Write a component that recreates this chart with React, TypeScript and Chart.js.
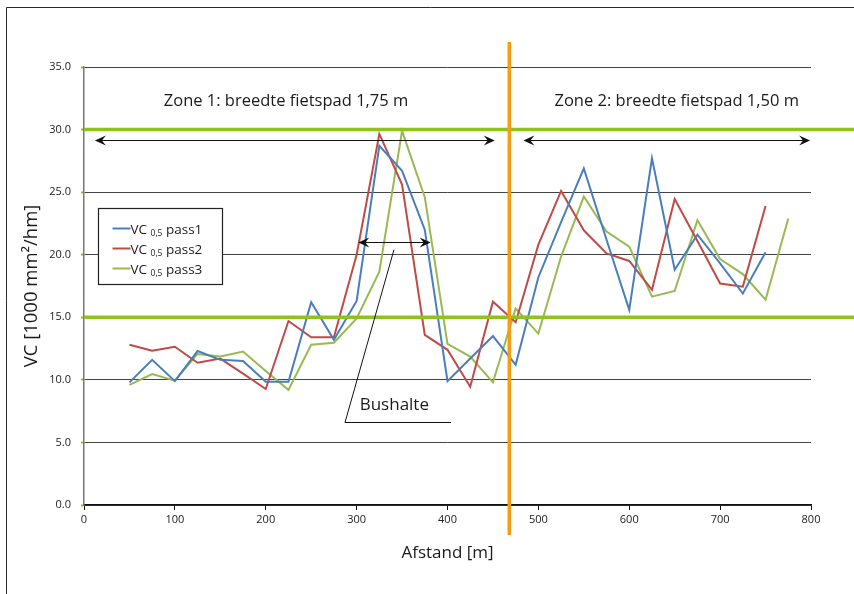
import React, { useEffect, useRef } from "react";
import { Chart, registerables } from "chart.js";

Chart.register(...registerables);

// ---- data ----
const distances = [50, 75, 100, 125, 150, 175, 200, 225, 250, 275, 300, 325, 350, 375, 400, 425, 450, 475, 500, 525, 550, 575, 600, 625, 650, 675, 700, 725, 750, 775];
const pass1 = [9.8, 11.6, 9.9, 12.3, 11.6, 11.5, 9.85, 9.85, 16.2, 13.2, 16.3, 28.7, 26.7, 22.0, 9.9, 11.7, 13.5, 11.2, 18.2, 22.6, 26.9, 21.2, 15.6, 27.7, 18.8, 21.6, 19.3, 16.9, 20.2, null];
const pass2 = [12.8, 12.33, 12.65, 11.37, 11.7, 10.5, 9.27, 14.7, 13.4, 13.4, 20.0, 29.65, 25.6, 13.6, 12.4, 9.45, 16.25, 14.6, 20.8, 25.1, 21.95, 20.1, 19.5, 17.2, 24.45, 21.1, 17.7, 17.45, 23.9, null];
const pass3 = [9.6, 10.47, 9.94, 12.07, 11.86, 12.26, 10.7, 9.2, 12.8, 12.97, 14.9, 18.65, 29.9, 24.6, 12.87, 11.86, 9.8, 15.7, 13.7, 19.85, 24.65, 21.85, 20.65, 16.65, 17.1, 22.75, 19.65, 18.45, 16.4, 22.9];
const seriesNames = ["pass1", "pass2", "pass3"];
const seriesPrefix = "VC";
const seriesSub = "0,5";
const thresholds = [15, 30];
const zoneBoundary = 468;
const zoneLabels = ["Zone 1: breedte fietspad 1,75 m", "Zone 2: breedte fietspad 1,50 m"];
const busStopLabel = "Bushalte";
const xTitle = "Afstand [m]";
const yTitle = "VC [1000 mm²/hm]";

// ---- styling / annotation geometry (data units) ----
const COLORS = ["#4a7ebb", "#be4b48", "#98b954"];
const GREEN = "#8fc21c";
const ORANGE = "#f59c12";
const FONT = "'Open Sans', 'Noto Sans', sans-serif";
const ANN = {
  zone1Arrow: { x1: 12, x2: 452, y: 29.17 },
  zone2Arrow: { x1: 483.5, x2: 799, y: 29.17 },
  busArrow: { x1: 301.8, x2: 381.5, y: 21.0 },
  leader: [[341.1, 20.4], [287.2, 6.61], [403.9, 6.61]],
  busText: { x: 341.5, y: 7.95 },
  zoneText: [{ x: 222.3, y: 32.25 }, { x: 652.2, y: 32.25 }],
  orange: { y1: 37.0, y2: -2.4 },
};

function arrowHead(ctx: CanvasRenderingContext2D, x: number, y: number, dir: number) {
  ctx.beginPath();
  ctx.moveTo(x, y);
  ctx.lineTo(x - dir * 11, y - 5);
  ctx.lineTo(x - dir * 7, y);
  ctx.lineTo(x - dir * 11, y + 5);
  ctx.closePath();
  ctx.fill();
}

function doubleArrow(ctx: CanvasRenderingContext2D, x1: number, x2: number, y: number) {
  ctx.beginPath();
  ctx.moveTo(x1 + 4, y);
  ctx.lineTo(x2 - 4, y);
  ctx.stroke();
  arrowHead(ctx, x1, y, -1);
  arrowHead(ctx, x2, y, 1);
}

const annotationPlugin = {
  id: "annotations",
  beforeDraw(chart: any) {
    const ctx = chart.ctx as CanvasRenderingContext2D;
    ctx.save();
    ctx.strokeStyle = "#2a2a2a";
    ctx.lineWidth = 1;
    ctx.beginPath();
    ctx.moveTo(6.5, chart.height);
    ctx.lineTo(6.5, 7.5);
    ctx.lineTo(chart.width, 7.5);
    ctx.stroke();
    ctx.restore();
  },
  afterDatasetsDraw(chart: any) {
    const ctx = chart.ctx as CanvasRenderingContext2D;
    const x = chart.scales.x;
    const y = chart.scales.y;
    const area = chart.chartArea;
    ctx.save();
    ctx.strokeStyle = GREEN;
    ctx.lineWidth = 3.5;
    thresholds.forEach((t) => {
      const py = y.getPixelForValue(t);
      ctx.beginPath();
      ctx.moveTo(area.left, py);
      ctx.lineTo(chart.width, py);
      ctx.stroke();
    });
    ctx.strokeStyle = ORANGE;
    ctx.lineWidth = 3.5;
    const ox = x.getPixelForValue(zoneBoundary);
    ctx.beginPath();
    ctx.moveTo(ox, y.getPixelForValue(ANN.orange.y1));
    ctx.lineTo(ox, y.getPixelForValue(ANN.orange.y2));
    ctx.stroke();
    ctx.strokeStyle = "#111";
    ctx.fillStyle = "#111";
    ctx.lineWidth = 1;
    [ANN.zone1Arrow, ANN.zone2Arrow, ANN.busArrow].forEach((a) => {
      doubleArrow(ctx, x.getPixelForValue(a.x1), x.getPixelForValue(a.x2), Math.round(y.getPixelForValue(a.y)) + 0.5);
    });
    ctx.beginPath();
    ANN.leader.forEach((p, i) => {
      const px = x.getPixelForValue(p[0]);
      const py = y.getPixelForValue(p[1]);
      if (i === 0) ctx.moveTo(px, py);
      else ctx.lineTo(px, Math.round(py) + 0.5);
    });
    ctx.stroke();
    ctx.fillStyle = "#1a1a1a";
    ctx.textAlign = "center";
    ctx.textBaseline = "middle";
    ctx.font = `16.5px ${FONT}`;
    zoneLabels.forEach((lab, i) => {
      ctx.fillText(lab, x.getPixelForValue(ANN.zoneText[i].x), y.getPixelForValue(ANN.zoneText[i].y));
    });
    ctx.font = `17px ${FONT}`;
    ctx.fillText(busStopLabel, x.getPixelForValue(ANN.busText.x), y.getPixelForValue(ANN.busText.y));

    const lx = area.left + 14.5;
    const ly = 208.5;
    const lw = 124;
    const lh = 76;
    ctx.fillStyle = "#fff";
    ctx.fillRect(lx, ly, lw, lh);
    ctx.strokeStyle = "#222";
    ctx.lineWidth = 1.2;
    ctx.strokeRect(lx, ly, lw, lh);
    ctx.textAlign = "left";
    ctx.textBaseline = "alphabetic";
    seriesNames.forEach((name, i) => {
      const rowY = ly + 20 + i * 20;
      ctx.strokeStyle = COLORS[i];
      ctx.lineWidth = 2;
      ctx.beginPath();
      ctx.moveTo(lx + 14, rowY);
      ctx.lineTo(lx + 32, rowY);
      ctx.stroke();
      ctx.fillStyle = "#1a1a1a";
      let tx = lx + 32;
      const base = rowY + 5;
      ctx.font = `13.5px ${FONT}`;
      ctx.fillText(seriesPrefix, tx, base);
      tx += ctx.measureText(seriesPrefix + " ").width;
      ctx.font = `8.5px ${FONT}`;
      ctx.fillText(seriesSub, tx, base + 2);
      tx += ctx.measureText(seriesSub).width;
      ctx.font = `13.5px ${FONT}`;
      ctx.fillText(" " + name, tx, base);
    });
    ctx.restore();
  },
};

function toPoints(values: (number | null)[]) {
  const pts: { x: number; y: number }[] = [];
  values.forEach((v, i) => {
    if (v !== null && v !== undefined) pts.push({ x: distances[i], y: v });
  });
  return pts;
}

export default function App() {
  const canvasRef = useRef<HTMLCanvasElement | null>(null);

  useEffect(() => {
    if (!canvasRef.current) return;
    const all = [pass1, pass2, pass3];
    const chart = new Chart(canvasRef.current, {
      type: "line",
      data: {
        datasets: all.map((vals, i) => ({
          label: `${seriesPrefix} ${seriesSub} ${seriesNames[i]}`,
          data: toPoints(vals),
          borderColor: COLORS[i],
          backgroundColor: COLORS[i],
          borderWidth: 2,
          pointRadius: 0,
          tension: 0,
          fill: false,
        })),
      },
      options: {
        animation: false,
        responsive: false,
        maintainAspectRatio: false,
        layout: { padding: { top: 67, right: 43, left: 0, bottom: 0 } },
        plugins: {
          legend: { display: false },
          tooltip: { enabled: false },
        },
        scales: {
          x: {
            type: "linear",
            min: 0,
            max: 800,
            ticks: {
              stepSize: 100,
              color: "#222",
              font: { family: FONT, size: 11 },
              padding: 3,
              maxRotation: 0,
            },
            grid: { drawOnChartArea: false, drawTicks: true, tickLength: 5, tickColor: "#111", tickWidth: 1 },
            border: { color: "#111", width: 1.5 },
            title: {
              display: true,
              text: xTitle,
              color: "#1a1a1a",
              font: { family: FONT, size: 17 },
              padding: { top: 0, bottom: 31 },
            },
            afterFit: (s: any) => {
              s.height = 89;
            },
          },
          y: {
            min: 0,
            max: 35,
            ticks: {
              stepSize: 5,
              color: "#222",
              font: { family: FONT, size: 11 },
              padding: 10,
              callback: (v: any) => Number(v).toFixed(1),
            },
            grid: { color: "#444", lineWidth: 1, tickLength: 3, tickColor: GREEN, tickWidth: 2 },
            border: { color: "#777", width: 1.5 },
            title: {
              display: true,
              text: yTitle,
              color: "#1a1a1a",
              font: { family: FONT, size: 18.5 },
              padding: { top: 21, bottom: 0 },
            },
            afterFit: (s: any) => {
              s.width = 84;
            },
          },
        },
      },
      plugins: [annotationPlugin],
    });
    return () => chart.destroy();
  }, []);

  return (
    <div style={{ position: "absolute", left: 0, top: 0, width: 854, height: 594, background: "#fff" }}>
      <canvas ref={canvasRef} width={854} height={594} style={{ width: 854, height: 594, display: "block" }} />
    </div>
  );
}
